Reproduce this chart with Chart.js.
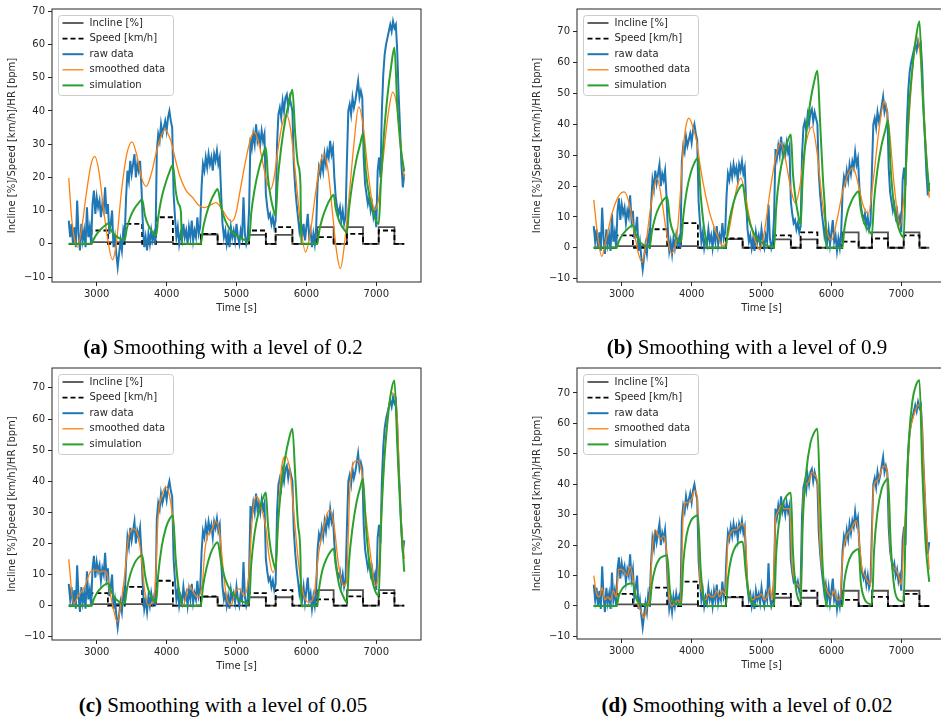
<!DOCTYPE html>
<html>
<head>
<meta charset="utf-8">
<script src="https://cdn.jsdelivr.net/npm/chart.js@4.4.1/dist/chart.umd.min.js"></script>
<style>
  body { margin: 0; width: 941px; height: 719px; overflow: hidden; background: #fff; position: relative; }
  canvas { position: absolute; }
  .cap { position: absolute; font-family: "Liberation Serif", "Times New Roman", serif; font-size: 21px;
         color: #000; white-space: nowrap; transform: translate(-50%, -50%); }
</style>
</head>
<body>
<canvas id="pa"></canvas>
<canvas id="pb"></canvas>
<canvas id="pc"></canvas>
<canvas id="pd"></canvas>
<div class="cap" style="left:223px;top:347px"><b>(a)</b> Smoothing with a level of 0.2</div>
<div class="cap" style="left:747px;top:347px"><b>(b)</b> Smoothing with a level of 0.9</div>
<div class="cap" style="left:223px;top:705px"><b>(c)</b> Smoothing with a level of 0.05</div>
<div class="cap" style="left:747px;top:705px"><b>(d)</b> Smoothing with a level of 0.02</div>
<script>
const xTicks = [3000, 4000, 5000, 6000, 7000];
const yTicks = [-10, 0, 10, 20, 30, 40, 50, 60, 70];

// treadmill protocol (step changes), same in every panel
const stepTime = [2600, 2925, 3160, 3400, 3650, 3850, 4090, 4490, 4730, 5180, 5420, 5560, 5800, 6155, 6390, 6580, 6810, 7035, 7260, 7400];
const speed    = [0, 4, 0, 6, 0, 8, 0, 3, 0, 4, 0, 5, 0, 2, 0, 3, 0, 4, 0, 0];
const incline  = [0, 0.5, 0.5, 0.5, 0.5, 0.5, 0, 2.8, 0, 2.7, 0, 2.7, 0, 5, 0, 5, 0, 5, 0, 0];

// measured heart rate above rest, one value every 20 s from 2600 s
const rawHR = [
  7, 2, 6, 0, 5, -1, 13, 3, -2, 6, 1, 4, -1, 11, 2, 5, 0,
  12, 16, 9, 14, 11, 13, 8, 12, 10, 17, 9, 12,
  3, 6, 10, -1, 2, -3, -7, -3, 1, -2, 4, 2,
  14, 22, 19, 25, 21, 24, 27, 20, 24, 22, 25, 17,
  6, -1, 2, -2, 3, 0, 4, 1, 3, 0,
  28, 33, 31, 36, 33, 35, 37, 34, 38, 40, 37, 35,
  15, 8, 2, 5, 0, 3, 1, 6, 2, 4, 0, 5, 2, 7, 1, 4, 2, 8, 3, 5,
  17, 24, 22, 26, 23, 27, 24, 26, 22, 27, 25, 28, 24, 26, 15,
  6, 2, 4, 0, 3, -1, 5, 2, 4, 1, 6, 2, 0, 4, 2, 14, 3, 0, 2,
  10, 32, 29, 33, 30, 36, 31, 33, 30, 34, 31, 33,
  15, 11, 8, 9, 6, 8, 5, 7,
  30, 39, 41, 38, 43, 40, 44, 45, 41, 44, 42, 40,
  24, 17, 12, 8, 4, 7, 2, 6, 1, 5, 9, 2, 4, -1, 3, 0, 5,
  18, 23, 21, 25, 22, 27, 24, 28, 26, 31, 27, 29,
  20, 14, 11, 9, 11, 7, 10, 6, 8,
  25, 40, 42, 39, 44, 41, 43, 46, 49, 44, 46, 44,
  26, 18, 15, 12, 14, 10, 12, 8, 10, 5,
  22, 26, 20, 40, 51, 57, 60, 62, 64, 66, 64, 67, 65, 66,
  58, 45, 35, 24, 17, 21
];
const rawTime = rawHR.map((_, i) => 2600 + 20 * i);

// smoothed data, one curve per smoothing level
const smoothATime = [2600, 2640, 2680, 2720, 2780, 2850, 2920, 2972, 3030, 3100, 3160, 3224, 3280, 3350, 3430, 3504, 3570, 3640, 3708, 3780,
  3870, 3979, 4060, 4130, 4183, 4280, 4373, 4460, 4540, 4620, 4706, 4790, 4870, 4929, 4990, 5060, 5140, 5200, 5252, 5310,
  5380, 5430, 5479, 5530, 5590, 5650, 5713, 5770, 5840, 5910, 5988, 6060, 6130, 6190, 6249, 6310, 6380, 6430, 6486, 6540,
  6610, 6680, 6748, 6810, 6870, 6930, 6975, 7030, 7100, 7170, 7236, 7290, 7340, 7400];
const smoothA = [19.8, 8, 1.5, -1, 4, 15, 24, 26.3, 22, 10, 1, -4.8, 0, 15, 27, 30.7, 27, 20, 17.3, 21,
  29, 34.4, 31, 25, 20.8, 16, 13.9, 11.6, 10.9, 11.6, 12.4, 10.5, 7.8, 6.7, 9, 17, 26, 31.5, 33.7, 31,
  24, 19, 16.3, 19, 28, 35.5, 38.9, 35, 22, 7, -2.5, 4, 15, 23.5, 27, 22, 8, -2, -7.5, -1,
  14, 30, 41.2, 36, 24, 14, 10.2, 13, 26, 39, 45.7, 42, 32, 20];

const smoothBTime = [2600, 2650, 2715, 2780, 2860, 2950, 3035, 3110, 3180, 3240, 3295, 3350, 3420, 3505, 3570, 3640, 3710, 3790, 3840, 3880,
  3920, 3962, 4020, 4071, 4120, 4167, 4262, 4357, 4452, 4520, 4600, 4650, 4705, 4760, 4833, 4900, 4975, 5040, 5120, 5200,
  5275, 5340, 5420, 5485, 5550, 5620, 5724, 5800, 5870, 5940, 6005, 6080, 6160, 6240, 6310, 6380, 6450, 6530, 6600, 6680,
  6760, 6830, 6900, 6985, 7050, 7120, 7180, 7230, 7280, 7340, 7400];
const smoothB = [15.5, 5, -2.8, 3, 11, 16.5, 18.1, 14, 5, -2, -4.7, 2, 14, 22.6, 16, 5, -1.8, 4, 18, 32,
  39.5, 42, 39, 34.6, 27, 20.7, 11, 4.7, 0.6, 4, 14, 19.8, 22.6, 18, 9, 3, -0.6, 5, 18, 29,
  34, 29, 19, 14.4, 20, 32, 39.2, 30, 15, 5, 2.5, 9, 18, 24, 26, 21, 14, 11, 22, 38,
  47.8, 38, 20, 7, 20, 45, 62, 68, 60, 38, 16.2];

const smoothCTime = [2600, 2668, 2739, 2834, 2905, 2953, 3000, 3050, 3100, 3143, 3190, 3238, 3295, 3357, 3404, 3451, 3523, 3594, 3641, 3689,
  3737, 3784, 3832, 3879, 3927, 3988, 4045, 4093, 4140, 4188, 4235, 4326, 4390, 4444, 4515, 4544, 4591, 4639, 4701, 4758,
  4805, 4853, 4924, 4990, 5038, 5108, 5180, 5227, 5289, 5346, 5417, 5465, 5522, 5574, 5631, 5702, 5764, 5821, 5892, 5963,
  6035, 6106, 6177, 6249, 6329, 6391, 6462, 6534, 6572, 6629, 6724, 6795, 6842, 6914, 6985, 7023, 7080, 7151, 7222, 7294,
  7341, 7400];
const smoothC = [14.9, 0.6, 3.2, 6.4, 10.7, 11.2, 11.5, 10.8, 11.2, 10.5, 4.3, -1, -5.2, 2.2, 10.7, 21.3, 24.7, 22.3, 15, 4.3,
  0.1, 0.6, 5, 28.7, 35, 38.2, 35, 26.6, 10.7, 3.2, 0.2, 6.4, 4, 2.7, 8, 17, 22.8, 23.9, 27.1, 23.4,
  12.8, 3.2, 0.3, 4.8, 5.4, 3.2, 10.7, 28.7, 35.2, 31.9, 25.5, 16, 10.7, 17, 41.4, 48, 43.5, 29.7, 12.8, 3.2,
  1.1, 3.2, 17, 25.5, 30.8, 26.6, 12.8, 6.4, 7.5, 40.3, 46.7, 42.5, 30.8, 17, 6.4, 8.6, 34, 58.3, 68.4, 62.6,
  34, 15];

// level 0.02 follows the raw data closely, one value every 40 s
const smoothD = [10, 4, 3, 6, 2, 3, 2, 5, 3,
  12, 12, 11, 10, 13, 9,
  4, 0, -2, -4, 0, 3,
  19, 25, 23, 22, 23, 18,
  2, 0, 1, 2, 1,
  30, 34, 34, 35, 38, 36,
  9, 4, 2, 4, 3, 3, 5, 3, 5, 4,
  21, 24, 25, 25, 26, 27, 26,
  8, 3, 2, 3, 3, 4, 2, 3, 6, 2,
  28, 31, 33, 32, 32, 32,
  13, 8, 7, 6,
  36, 40, 41, 44, 43, 41,
  19, 10, 6, 4, 3, 5, 2, 2,
  16, 22, 24, 25, 27, 28,
  21, 12, 10, 8, 7,
  38, 41, 42, 45, 46, 44,
  20, 13, 12, 10, 7,
  24, 38, 56, 61, 64, 66, 65,
  46, 26, 12];
const smoothDTime = smoothD.map((_, i) => 2600 + 40 * i);

// simulated heart rate, shared time knots
const simTime = [2600, 2925,
  2960, 3010, 3070, 3120, 3160,
  3200, 3250, 3320, 3400,
  3430, 3480, 3540, 3600, 3650,
  3690, 3740, 3800, 3850,
  3880, 3930, 3990, 4040, 4090,
  4130, 4170, 4205, 4220, 4490,
  4520, 4570, 4630, 4680, 4730,
  4780, 4840, 4920, 5020, 5100, 5180,
  5210, 5260, 5320, 5370, 5420,
  5450, 5490, 5530, 5560,
  5590, 5640, 5700, 5750, 5800,
  5840, 5880, 5915, 5925, 6155,
  6185, 6230, 6290, 6340, 6390,
  6420, 6470, 6530, 6580,
  6610, 6660, 6720, 6770, 6810,
  6850, 6900, 6960, 7035,
  7065, 7110, 7160, 7210, 7260,
  7300, 7350, 7400];
const simA = [0, 0,
  1.5, 3.2, 4.6, 5.5, 6.1,
  4.3, 2.8, 1.7, 1.1,
  4.5, 8.0, 10.6, 12.3, 13.4,
  8.5, 5.5, 3.5, 2.4,
  8, 14, 18.6, 21.6, 23.8,
  16, 12, 9.5, 0, 0,
  4.5, 9, 12.8, 15, 16.5,
  11, 7, 4, 2.2, 1.3, 0.9,
  9, 16.5, 22.5, 26.2, 29,
  20, 14, 10.2, 8.4,
  19, 29, 37.5, 42.5, 46.4,
  33, 24, 18, 0, 0,
  4, 7.8, 11.3, 13.4, 14.8,
  10.5, 6.8, 4.6, 3.4,
  10.5, 18.6, 25.8, 30, 33.2,
  22, 14.5, 9.2, 5.9,
  18, 33, 44.5, 53, 59.1,
  42, 29, 21.8];
const simB = [0, 0,
  2.2, 4.2, 5.8, 6.8, 7.3,
  4.5, 2.2, 0.8, 0.2,
  5, 10, 13.5, 15.6, 16.5,
  9, 4.8, 2.6, 1.8,
  10, 18.5, 24.5, 27.5, 29.2,
  17, 8, 2.5, 0, 0,
  6, 12, 16.8, 19.2, 20.5,
  13, 7.5, 3.5, 1.4, 0.5, 0.2,
  13, 23.5, 30.5, 34.3, 36.7,
  24, 15.5, 10, 7.4,
  23, 37, 47.5, 53.5, 57.4,
  40, 22, 9, 0, 0,
  6, 11.5, 15.2, 17.2, 18.3,
  12.5, 8, 5.8, 4.4,
  15, 25.5, 33.5, 38, 41.3,
  25, 13, 6.5, 3.4,
  25, 45, 58.5, 68, 73.4,
  52, 32, 18.3];
const simC = [0, 0,
  2.2, 4.3, 5.9, 6.8, 7.2,
  5, 2.8, 1.2, 0.6,
  5, 10, 13.6, 15.5, 16.3,
  10, 5, 2.2, 1.1,
  10, 19, 25, 27.8, 29,
  15, 6, 1.5, 0, 0,
  6, 12, 16.8, 19.2, 20.4,
  14, 8.5, 4.6, 2.2, 1.1, 0.6,
  13, 23.5, 30.3, 34, 36.4,
  26, 18, 13.8, 11.7,
  25, 38, 48, 53.5, 56.9,
  42, 26, 16, 0, 0,
  6, 11.5, 15.2, 17.2, 18.3,
  13, 6.5, 2.8, 1.1,
  14, 25, 33.5, 38, 40.9,
  26, 14, 6.5, 3.2,
  24, 45, 59, 68.5, 72.4,
  52, 28, 10.9];
const simD = [0, 0,
  3.5, 5.8, 7, 7.4, 7.5,
  3, 1, 0.3, 0.2,
  7, 12.5, 15.5, 16.4, 16.7,
  5, 1.5, 0.6, 0.3,
  14, 23.5, 28, 29.3, 29.7,
  12, 3, 0.8, 0, 0,
  9, 16, 19.6, 20.8, 21.1,
  10, 2, 0.3, 0, 0, 0,
  17, 29, 34.5, 36.5, 37.2,
  18, 6, 2, 1.3,
  27, 44, 53.5, 56.8, 58.2,
  33, 11, 3, 0, 0,
  8, 13.5, 17, 18.2, 18.7,
  8, 2.5, 0.8, 0.5,
  18, 31, 38.5, 41, 41.9,
  20, 6, 2, 1.5,
  30, 55, 67.5, 72.5, 74.2,
  45, 20, 7.9];

const FONT = '"DejaVu Sans", Verdana, sans-serif';
const INK = '#262626';
const Y_TITLE = 'Incline [%]/Speed [km/h]/HR [bpm]';

const pts = (xs, ys) => xs.map((x, i) => ({ x, y: ys[i] }));

const decor = {
  id: 'decor',
  afterDraw(chart) {
    const { ctx, chartArea: a } = chart;
    ctx.save();
    ctx.strokeStyle = INK;
    ctx.lineWidth = 1;
    ctx.strokeRect(a.left, a.top, a.right - a.left, a.bottom - a.top);

    ctx.fillStyle = INK;
    ctx.font = '10px ' + FONT;
    ctx.textAlign = 'center';
    ctx.textBaseline = 'middle';
    ctx.fillText('Time [s]', (a.left + a.right) / 2, a.bottom + 26);
    ctx.save();
    ctx.translate(a.left - 40, (a.top + a.bottom) / 2);
    ctx.rotate(-Math.PI / 2);
    ctx.fillText(Y_TITLE, 0, 0);
    ctx.restore();

    // legend box, upper left like matplotlib
    const bx = a.left + 6.5, by = a.top + 6.5, bw = 115, bh = 80;
    ctx.fillStyle = 'rgba(255,255,255,0.8)';
    ctx.strokeStyle = '#cccccc';
    ctx.beginPath();
    if (ctx.roundRect) ctx.roundRect(bx, by, bw, bh, 3); else ctx.rect(bx, by, bw, bh);
    ctx.fill();
    ctx.stroke();
    ctx.textAlign = 'left';
    chart.data.datasets.forEach((ds, i) => {
      const ly = by + 7.5 + i * 15.6;
      ctx.strokeStyle = ds.borderColor;
      ctx.lineWidth = ds.borderWidth;
      ctx.setLineDash(ds.borderDash || []);
      ctx.beginPath();
      ctx.moveTo(bx + 4, ly);
      ctx.lineTo(bx + 25, ly);
      ctx.stroke();
      ctx.setLineDash([]);
      ctx.fillStyle = INK;
      ctx.fillText(ds.label, bx + 31, ly);
    });
    ctx.restore();
  }
};

function makePanel(id, box, yRange, smoothT, smoothV, simV) {
  const [L, T, R, B] = box;
  const canvas = document.getElementById(id);
  canvas.width = R - L + 60;
  canvas.height = B - T + 56;
  canvas.style.left = (L - 52) + 'px';
  canvas.style.top = (T - 6) + 'px';

  const tickFont = { family: FONT, size: 10 };
  new Chart(canvas.getContext('2d'), {
    type: 'line',
    data: {
      datasets: [
        { label: 'Incline [%]', data: pts(stepTime, incline), borderColor: '#505050', borderWidth: 1.8, stepped: true, order: 5 },
        { label: 'Speed [km/h]', data: pts(stepTime, speed), borderColor: '#000000', borderWidth: 1.8, borderDash: [5, 3], stepped: true, order: 4 },
        { label: 'raw data', data: pts(rawTime, rawHR), borderColor: '#1f77b4', borderWidth: 2, order: 3 },
        { label: 'smoothed data', data: pts(smoothT, smoothV), borderColor: '#ff7f0e', borderWidth: 1.3, cubicInterpolationMode: 'monotone', order: 2 },
        { label: 'simulation', data: pts(simTime, simV), borderColor: '#2ca02c', borderWidth: 2, cubicInterpolationMode: 'monotone', order: 1 }
      ]
    },
    options: {
      responsive: false,
      animation: false,
      events: [],
      elements: { point: { radius: 0 }, line: { tension: 0, borderCapStyle: 'butt' } },
      layout: { padding: { left: 0, top: 6, right: 60 - 52, bottom: 0 } },
      plugins: { legend: { display: false }, tooltip: { enabled: false } },
      scales: {
        x: {
          type: 'linear', min: 2360, max: 7640,
          afterBuildTicks: s => { s.ticks = xTicks.map(v => ({ value: v })); },
          afterFit: s => { s.height = 50; },
          grid: { drawOnChartArea: false, tickLength: 4, tickColor: INK, tickWidth: 1 },
          border: { display: false },
          ticks: { font: tickFont, color: INK, padding: 2, maxRotation: 0, autoSkip: false,
                   callback: v => String(v) }
        },
        y: {
          type: 'linear', min: yRange[0], max: yRange[1],
          afterBuildTicks: s => { s.ticks = yTicks.map(v => ({ value: v })); },
          afterFit: s => { s.width = 52; },
          grid: { drawOnChartArea: false, tickLength: 4, tickColor: INK, tickWidth: 1 },
          border: { display: false },
          ticks: { font: tickFont, color: INK, padding: 3, autoSkip: false,
                   callback: v => String(v).replace('-', '\u2212') }
        }
      }
    },
    plugins: [decor]
  });
}

makePanel('pa', [52, 6, 421, 282], [-11.5, 70.7], smoothATime, smoothA, simA);
makePanel('pb', [577, 6, 946, 282], [-11.1, 77.4], smoothBTime, smoothB, simB);
makePanel('pc', [52, 365, 421, 640], [-11.05, 76.4], smoothCTime, smoothC, simC);
makePanel('pd', [577, 365, 946, 639], [-10.85, 78.2], smoothDTime, smoothD, simD);
</script>
</body>
</html>
